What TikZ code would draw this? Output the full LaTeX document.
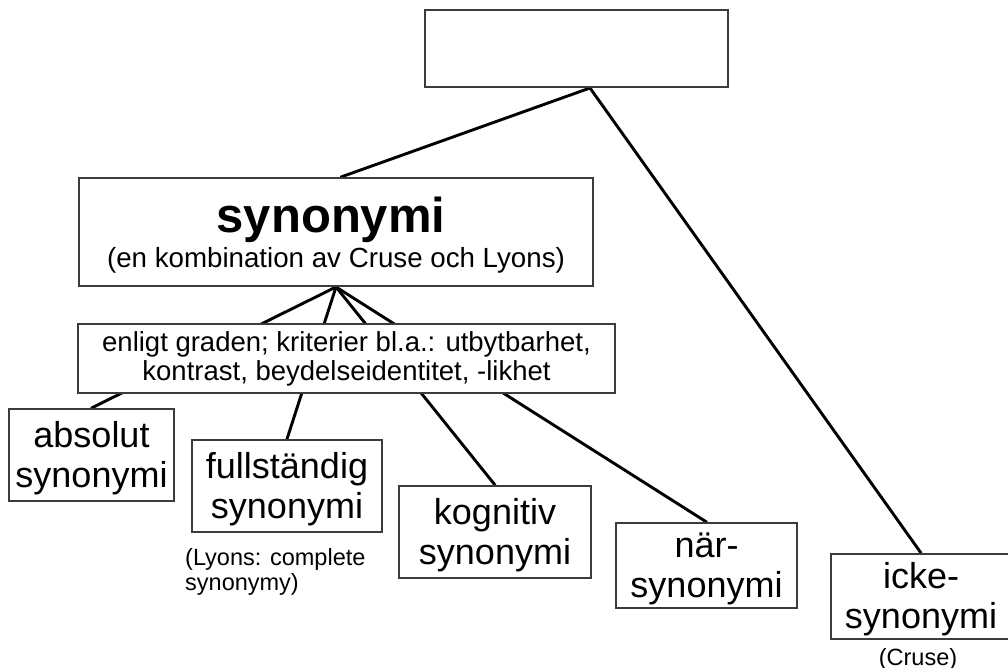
\documentclass[tikz,border=0pt]{standalone}
\usepackage{fontspec}
\setmainfont{Liberation Sans}
\usetikzlibrary{backgrounds,calc}
\definecolor{boxgray}{HTML}{3C3C3C}
\begin{document}
\begin{tikzpicture}[x=1pt,y=-1pt,
  box/.style={draw=boxgray,line width=2pt,fill=white,inner sep=0pt,align=center},
  term/.style={box,font=\fontsize{36}{40}\selectfont,text depth=1.5pt},
  conn/.style={line width=2.9pt,black,line cap=round},
  note/.style={inner sep=0pt,font=\fontsize{23.5}{25}\selectfont}]
\useasboundingbox (0,0) rectangle (1008,668);
\clip (0,0) rectangle (1008,668);

% empty top box
\node[box,minimum width=303pt,minimum height=77pt] (top) at (576.5,48.5) {};

% main concept box and its two lines of text
\node[box,minimum width=514pt,minimum height=108pt] (syn) at (336,232) {};
\node[inner sep=0pt,anchor=base,font=\fontsize{49}{49}\selectfont\bfseries] (synword) at (331,233) {synonymi};
\node[inner sep=0pt,anchor=base,font=\fontsize{27.7}{30}\selectfont] (syncomment) at (336,267) {(en kombination av Cruse och Lyons)};

% criteria box
\node[box,minimum width=537pt,minimum height=69pt,font=\fontsize{27.5}{29}\selectfont] (crit) at (346.5,358.5)
  {enligt graden; kriterier bl.a.: utbytbarhet,\\kontrast, beydelseidentitet, -likhet};

% kinds of synonymy
\node[term,minimum width=165pt,minimum height=92pt] (abs) at (91.5,455) {absolut\\synonymi};
\node[term,minimum width=190pt,minimum height=92pt] (full) at (287,486) {fullständig\\synonymi};
\node[term,minimum width=192pt,minimum height=92pt] (kog) at (495,532) {kognitiv\\synonymi};
\node[term,minimum width=181pt,minimum height=85pt] (nar) at (706.5,565.5) {när-\\synonymi};
\node[term,minimum width=180pt,minimum height=85pt] (icke) at (921,596.5) {icke-\\synonymi};

% source notes
\node[note,align=left,anchor=north west] (lyons) at (185,548) {(Lyons: complete\\synonymy)};
\node[note,anchor=base] (cruse) at (918,665) {(Cruse)};

% connectors, drawn behind the boxes
\coordinate (j) at ($(top.south)+(13.5,0)$);
\coordinate (synin) at ($(syn.north)+(5,0)$);
\begin{pgfonlayer}{background}
  \draw[conn] (j) -- (synin);
  \draw[conn] (j) -- (icke.north);
  \draw[conn] (syn.south) -- (abs.north);
  \draw[conn] (syn.south) -- (full.north);
  \draw[conn] (syn.south) -- (kog.north);
  \draw[conn] (syn.south) -- (nar.north);
\end{pgfonlayer}
\end{tikzpicture}
\end{document}
